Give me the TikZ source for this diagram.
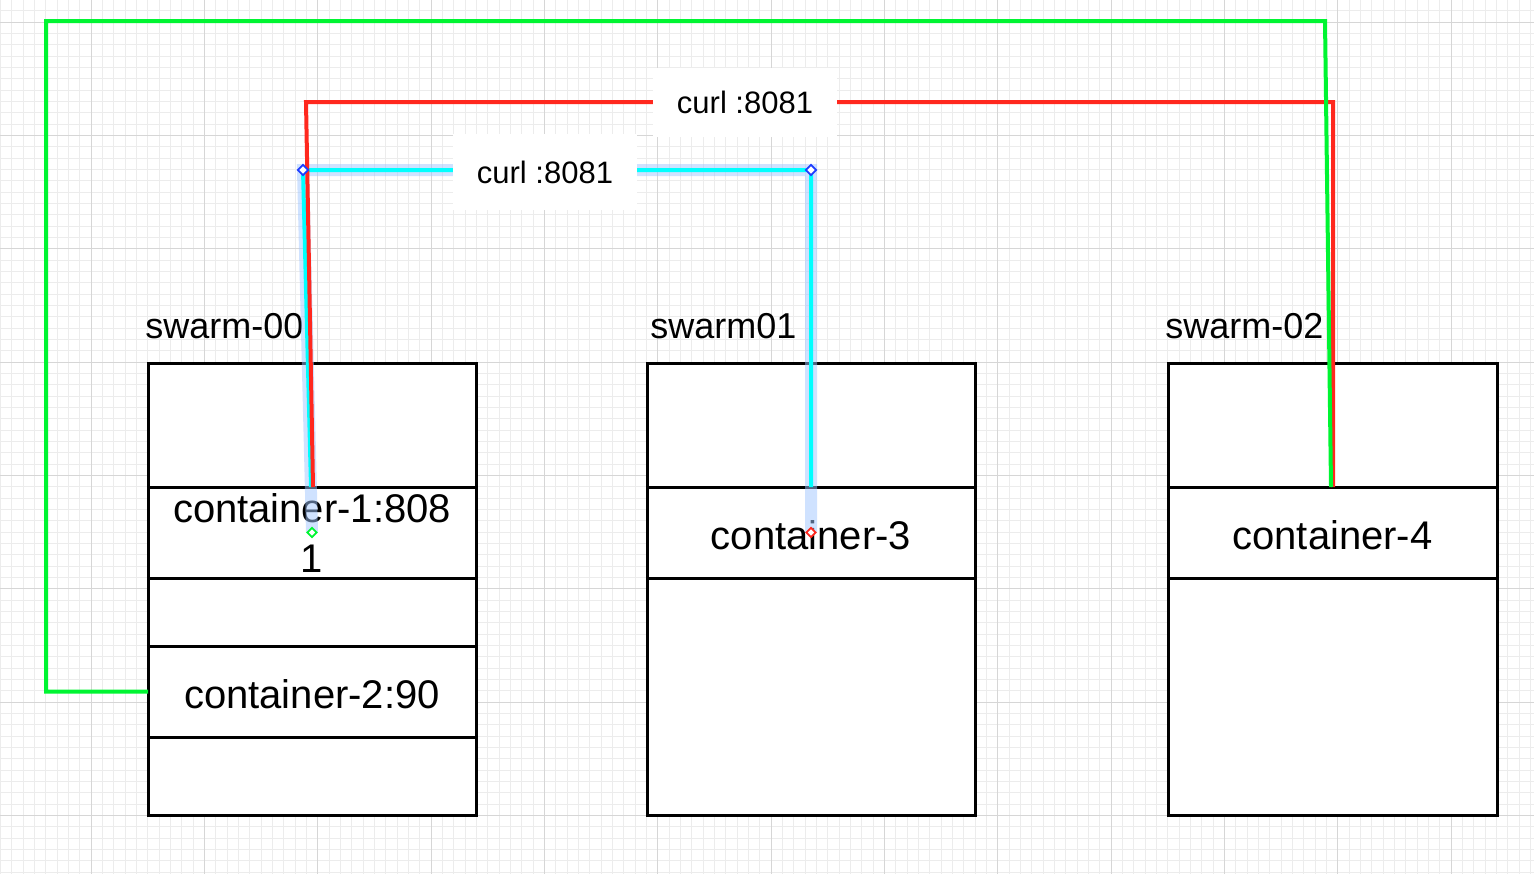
\documentclass[tikz,border=0pt]{standalone}
\usepackage{fontspec}
\setmainfont{Liberation Sans}
\usetikzlibrary{shapes.geometric}
\definecolor{gridminor}{RGB}{236,236,236}
\definecolor{gridmajor}{RGB}{214,214,214}
\definecolor{linkred}{RGB}{255,40,30}
\definecolor{linkgreen}{RGB}{0,245,50}
\definecolor{linkcyan}{RGB}{0,255,255}
\definecolor{halocol}{RGB}{160,198,255}
\definecolor{handleblue}{RGB}{30,60,255}
\begin{document}
\begin{tikzpicture}[x=0.5pt,y=-0.5pt,
  minorgrid/.style={draw=gridminor,line width=0.5pt},
  majorgrid/.style={draw=gridmajor,line width=0.5pt},
  swbox/.style={draw=black,fill=white,line width=1.5pt,rectangle,inner sep=0pt,minimum width=164pt,minimum height=226pt},
  sect/.style={draw=black,fill=white,line width=1.5pt,rectangle,inner sep=0pt,outer sep=0pt,minimum width=164pt,minimum height=45.5pt,font=\fontsize{20}{25}\selectfont,align=center},
  sectone/.style={sect,text height=16.5pt,text depth=0pt},
  swlabel/.style={anchor=base west,inner sep=0pt,font=\fontsize{18}{22}\selectfont},
  lblbox/.style={fill=white,inner sep=0pt,minimum width=92pt,font=\fontsize{15.5}{19}\selectfont},
  halo/.style={draw=halocol,opacity=0.5,line width=6pt},
  cyanline/.style={draw=linkcyan,line width=2pt},
  redline/.style={draw=linkred,line width=2pt},
  greenline/.style={draw=linkgreen,line width=2pt},
  handle/.style={diamond,fill=white,line width=0.9pt,inner sep=0pt,minimum size=5.5pt}
]
\useasboundingbox (0,0) rectangle (1534,874);
\fill[white] (0,0) rectangle (1534,874);
% background grid
\foreach \k in {-1,...,75} \draw[minorgrid] (0,{22+\k*11.3333}) -- (1534,{22+\k*11.3333});
\foreach \k in {-8,...,127} \draw[minorgrid] ({91+\k*11.3333},0) -- ({91+\k*11.3333},874);
\foreach \k in {0,...,7} \draw[majorgrid] (0,{22+\k*113.333}) -- (1534,{22+\k*113.333});
\foreach \k in {0,...,12} \draw[majorgrid] ({91+\k*113.333},0) -- ({91+\k*113.333},874);

% swarm boxes
\node[swbox] (A) at (312,589) {};
\node[swbox] (B) at (811,589) {};
\node[swbox,minimum width=164.5pt] (C) at (1332.5,589) {};
\node[swlabel] (An) at (145,338) {swarm-00};
\node[swlabel] (Bn) at (650,338) {swarm01};
\node[swlabel] (Cn) at (1165,338) {swarm-02};

% container sections
\node[sect] (c1) at (312,532.5) {container-1:808\\1};
\node[sectone] (c2) at (312,691.5) {container-2:90};
\node[sectone] (c3) at (811,532.5) {container-3};
\node[sectone,minimum width=164.5pt] (c4) at (1332.5,532.5) {container-4};

% bend points
\coordinate (gA) at (46,691.5);
\coordinate (gB) at (46,21);
\coordinate (gC) at (1325,21);
\coordinate (rA) at (306,102);
\coordinate (rB) at (1333,102);
\coordinate (bA) at (303,170);
\coordinate (bB) at (811,170);

% selected cyan connector
\draw[halo] (c1.center) -- (bA) -- (bB) -- (c3.center);
\draw[cyanline] ([xshift=-0.5pt]c1.north) -- (bA) -- (bB) -- (c3.north);
% red connector
\draw[redline] ([xshift=0.5pt]c1.north) -- (rA) -- (rB) -- ([xshift=0.25pt]c4.north);
% green connector
\draw[greenline] (c2.west) -- (gA) -- (gB) -- (gC) -- ([xshift=-0.75pt]c4.north);

% labels
\node[lblbox,minimum height=34.5pt] (L1) at (745,102) {curl :8081};
\node[lblbox,minimum height=38pt] (L2) at (545,172) {curl :8081};

% handles
\node[handle,draw=handleblue] (h1) at (bA) {};
\node[handle,draw=handleblue] (h2) at (bB) {};
\node[handle,draw=linkgreen,minimum size=5pt] (h3) at (c1.center) {};
\node[handle,draw=linkred,minimum size=5pt] (h4) at (c3.center) {};
\end{tikzpicture}
\end{document}
